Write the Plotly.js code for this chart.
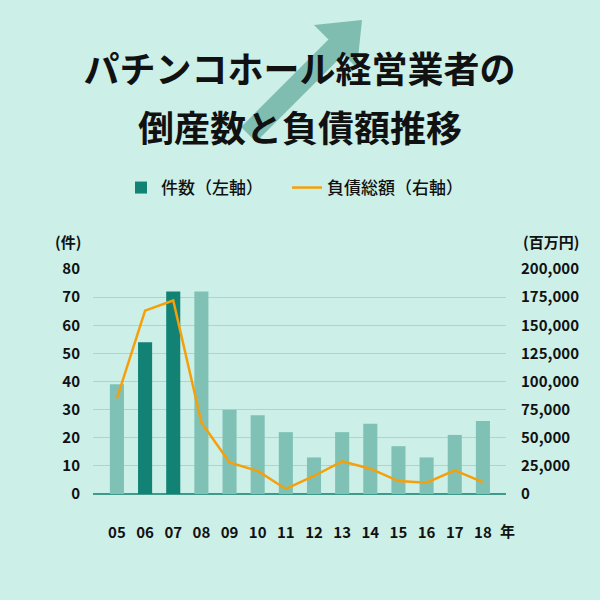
<!DOCTYPE html>
<html>
<head>
<meta charset="utf-8">
<script src="https://cdn.plot.ly/plotly-3.0.1.min.js"></script>
<style>html,body{margin:0;padding:0;background:#ccefe8;}</style>
</head>
<body>
<div id="chart" style="width:600px;height:600px;"></div>
<script>
// Data
const years = ['05','06','07','08','09','10','11','12','13','14','15','16','17','18'];
const counts = [39, 54, 72, 72, 30, 28, 22, 13, 22, 25, 17, 13, 21, 26];
const debt = [85000, 163000, 172000, 63500, 28000, 20500, 4500, 16000, 29000, 22500, 11500, 10000, 21000, 10500];
const highlightYears = ['06','07'];
const countTicks = [0,10,20,30,40,50,60,70,80];
const debtTicks = [0,25000,50000,75000,100000,125000,150000,175000,200000];

const FONT = '"Noto Sans CJK JP", "Noto Sans", sans-serif';
const DARK = '#118274';
const LIGHT = '#80c1b6';
const ORANGE = '#f5a00a';

// plot-area pixel frame used to place decoration
const PL = 93, PR = 506, PT = 269, PB = 494;
const px = x => (x - PL) / (PR - PL);
const py = y => (PB - y) / (PB - PT);
function path(pts){ return pts.map((p,i)=>(i?'L':'M')+px(p[0]).toFixed(4)+','+py(p[1]).toFixed(4)).join(' ')+' Z'; }

const darkTrace = {
  type:'bar', x: years, y: counts.map((v,i)=>highlightYears.includes(years[i])?v:null),
  name:'件数（左軸）', marker:{color:DARK}, width:0.5, hoverinfo:'skip'
};
const lightTrace = {
  type:'bar', x: years, y: counts.map((v,i)=>highlightYears.includes(years[i])?null:v),
  name:'件数', showlegend:false, marker:{color:LIGHT}, width:0.5, hoverinfo:'skip'
};
const lineTrace = {
  type:'scatter', mode:'lines', x: years, y: debt, yaxis:'y2',
  name:'負債総額（右軸）', line:{color:ORANGE, width:2.5}, hoverinfo:'skip'
};

const layout = {
  width:600, height:600,
  paper_bgcolor:'#ccefe8', plot_bgcolor:'rgba(0,0,0,0)',
  margin:{l:PL, r:600-PR, t:PT, b:600-PB},
  font:{family:FONT, color:'#111', size:15},
  barmode:'overlay',
  showlegend:true,
  title:{text:'パチンコホール経営業者の', font:{family:FONT, size:36, color:'#111', weight:'bold'},
         x:0.5, xref:'paper', xanchor:'center', y:1-70/600, yref:'container', yanchor:'middle'},
  legend:{orientation:'h', x:px(287), xanchor:'center', y:py(188), yanchor:'middle',
          entrywidth:121, entrywidthmode:'pixels',
          font:{family:FONT, size:17, color:'#111', weight:500}, bgcolor:'rgba(0,0,0,0)'},
  xaxis:{type:'category', range:[-0.85, 13.82], showgrid:false, zeroline:false, showline:false,
         ticks:'', tickfont:{family:FONT, size:15, color:'#111', weight:'bold'}, ticklabelstandoff:28,
         fixedrange:true},
  yaxis:{range:[0,80], tickvals:countTicks, showgrid:true, gridcolor:'#a7d8cd', gridwidth:1,
         zeroline:true, zerolinecolor:'#3f9a8b', zerolinewidth:2, showline:false, ticks:'',
         tickfont:{family:FONT, size:15, color:'#111', weight:'bold'}, ticklabelstandoff:12},
  yaxis2:{overlaying:'y', side:'right', range:[0,200000], tickvals:debtTicks, tickformat:',d',
          showgrid:false, zeroline:false, showline:false, ticks:'',
          tickfont:{family:FONT, size:15, color:'#111', weight:'bold'}, ticklabelstandoff:14},
  shapes:[{type:'path', xref:'paper', yref:'paper', layer:'below',
           path: path([[241,127],[328.5,39.5],[314,25],[362,20],[357,68],[343.5,54.5],[256,142]]),
           fillcolor:'#7fbdb1', line:{width:0}}],
  annotations:[
    {text:'倒産数と負債額推移', xref:'paper', yref:'paper', x:px(300), y:py(126), xanchor:'center', yanchor:'middle',
     showarrow:false, font:{family:FONT, size:36, color:'#111', weight:'bold'}},
    {text:'(件)', xref:'paper', yref:'paper', x:px(68), y:py(242), xanchor:'center', yanchor:'middle',
     showarrow:false, font:{family:FONT, size:15, color:'#111', weight:'bold'}},
    {text:'(百万円)', xref:'paper', yref:'paper', x:px(551), y:py(242), xanchor:'center', yanchor:'middle',
     showarrow:false, font:{family:FONT, size:15, color:'#111', weight:'bold'}},
    {text:'年', xref:'paper', yref:'paper', x:px(507), y:py(530), xanchor:'center', yanchor:'middle',
     showarrow:false, font:{family:FONT, size:15, color:'#111', weight:'bold'}}
  ]
};

Plotly.newPlot('chart', [darkTrace, lightTrace, lineTrace], layout, {displayModeBar:false, staticPlot:true});
</script>
</body>
</html>
